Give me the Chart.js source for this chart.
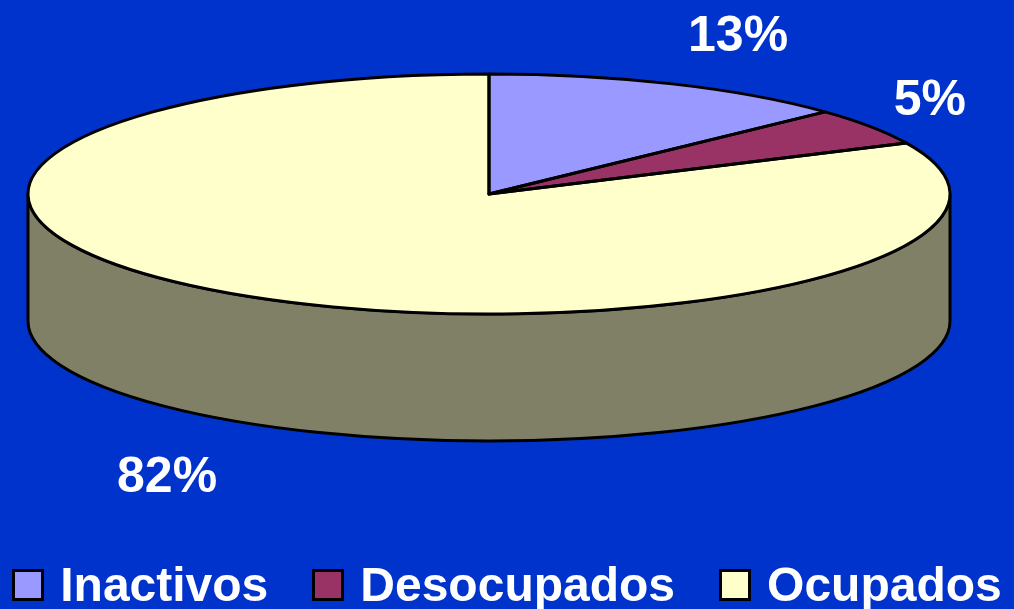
<!DOCTYPE html>
<html>
<head>
<meta charset="utf-8">
<script src="https://cdn.jsdelivr.net/npm/chart.js@4/dist/chart.umd.min.js"></script>
<style>
  html, body { margin: 0; padding: 0; background: #0033CC; }
  #wrap { position: relative; width: 1014px; height: 609px; overflow: hidden; background: #0033CC; }
  #c { position: absolute; left: 0; top: 0; }
  #legend { position: absolute; left: 0; top: 561px; width: 1014px; height: 48px; display: flex; justify-content: center; gap: 44px;
            font-family: "Liberation Sans", Arial, sans-serif; font-weight: bold; font-size: 48px; line-height: 48px; color: #fff; }
  .item { display: flex; align-items: center; white-space: nowrap; }
  .box { box-sizing: border-box; width: 32px; height: 32px; border: 3px solid #000; margin-right: 16px; }
</style>
</head>
<body>
<div id="wrap">
  <canvas id="c" width="1014" height="609"></canvas>
  <div id="legend"></div>
</div>
<script>
const categories = ["Inactivos", "Desocupados", "Ocupados"];
const values = [13, 5, 82];
const colors = ["#9999FF", "#993366", "#FFFFCC"];

function darken(hex, f) {
  const n = parseInt(hex.slice(1), 16);
  const r = Math.round(((n >> 16) & 255) * f), g = Math.round(((n >> 8) & 255) * f), b = Math.round((n & 255) * f);
  return "rgb(" + r + "," + g + "," + b + ")";
}

const pie3d = {
  id: "pie3d",
  beforeDatasetsDraw(chart, args, o) {
    const ctx = chart.ctx;
    const arcs = chart.getDatasetMeta(0).data;
    if (!arcs.length) return;
    const a0 = arcs[0];
    const r = a0.outerRadius;
    ctx.save();
    ctx.lineWidth = o.lineWidth;
    ctx.strokeStyle = "#000";
    ctx.lineJoin = "round";
    arcs.forEach((arc, i) => {
      const ranges = [[0, Math.PI], [2 * Math.PI, 3 * Math.PI], [-2 * Math.PI, -Math.PI]];
      ranges.forEach(([lo, hi]) => {
        const s = Math.max(arc.startAngle, lo), e = Math.min(arc.endAngle, hi);
        if (e <= s) return;
        ctx.beginPath();
        ctx.ellipse(o.cx, o.cy, o.rx, o.ry, 0, s, e, false);
        ctx.lineTo(o.cx + o.rx * Math.cos(e), o.cy + o.ry * Math.sin(e) + o.depth);
        ctx.ellipse(o.cx, o.cy + o.depth, o.rx, o.ry, 0, e, s, true);
        ctx.closePath();
        ctx.fillStyle = darken(colors[i], 0.5);
        ctx.fill();
        ctx.stroke();
      });
    });
    ctx.restore();
    ctx.save();
    ctx.translate(o.cx, o.cy);
    ctx.scale(o.rx / r, o.ry / r);
    ctx.translate(-a0.x, -a0.y);
  },
  afterDatasetsDraw(chart, args, o) {
    const ctx = chart.ctx;
    ctx.restore();
    const arcs = chart.getDatasetMeta(0).data;
    ctx.save();
    ctx.lineWidth = o.lineWidth;
    ctx.strokeStyle = "#000";
    ctx.lineJoin = "round";
    arcs.forEach((arc) => {
      ctx.beginPath();
      ctx.moveTo(o.cx, o.cy);
      ctx.lineTo(o.cx + o.rx * Math.cos(arc.startAngle), o.cy + o.ry * Math.sin(arc.startAngle));
      ctx.ellipse(o.cx, o.cy, o.rx, o.ry, 0, arc.startAngle, arc.endAngle, false);
      ctx.closePath();
      ctx.stroke();
    });
    const total = values.reduce((a, b) => a + b, 0);
    ctx.font = "bold " + o.labelSize + "px 'Liberation Sans', Arial, sans-serif";
    ctx.fillStyle = "#fff";
    ctx.textAlign = "center";
    ctx.textBaseline = "middle";
    arcs.forEach((arc, i) => {
      const m = (arc.startAngle + arc.endAngle) / 2;
      const txt = Math.round(values[i] / total * 100) + "%";
      const w = ctx.measureText(txt).width;
      let x = o.cx + o.ldx + o.lrx * Math.cos(m);
      let y = o.cy + o.ldy + o.lry * Math.sin(m) + (Math.sin(m) > 0 ? o.depth : 0);
      x = Math.min(x, chart.width - o.margin - w / 2);
      x = Math.max(x, o.margin + w / 2);
      ctx.fillText(txt, x, y);
    });
    ctx.restore();
  }
};

new Chart(document.getElementById("c"), {
  type: "pie",
  data: {
    labels: categories,
    datasets: [{ data: values, backgroundColor: colors, borderWidth: 0, clip: false }]
  },
  options: {
    responsive: false,
    animation: false,
    events: [],
    layout: { padding: 0 },
    plugins: {
      legend: { display: false },
      tooltip: { enabled: false },
      pie3d: { cx: 489, cy: 194, rx: 461, ry: 120, depth: 127, lineWidth: 3, lrx: 612, lry: 178, ldx: 6, ldy: 7, labelSize: 50, margin: 48 }
    }
  },
  plugins: [pie3d]
});

const lg = document.getElementById("legend");
categories.forEach((c, i) => {
  const it = document.createElement("div");
  it.className = "item";
  const b = document.createElement("span");
  b.className = "box";
  b.style.background = colors[i];
  const t = document.createElement("span");
  t.textContent = c;
  it.appendChild(b); it.appendChild(t);
  lg.appendChild(it);
});
</script>
</body>
</html>
